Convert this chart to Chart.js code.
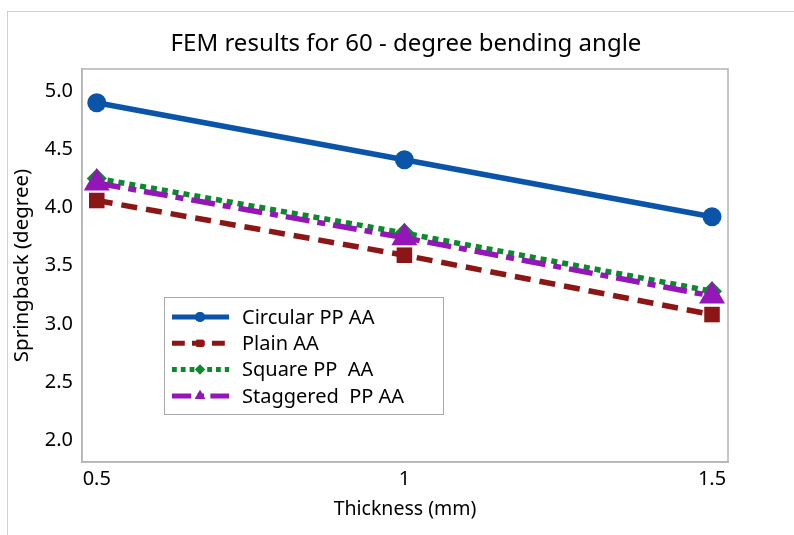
<!DOCTYPE html>
<html>
<head>
<meta charset="utf-8">
<script src="https://cdn.jsdelivr.net/npm/chart.js@4"></script>
<style>
  html, body { margin: 0; padding: 0; background: #fff; }
  #wrap { position: relative; width: 794px; height: 535px; }
  #frame { position: absolute; left: 7px; top: 11px; right: -2px; bottom: -2px; border-left: 1px solid #d0d0d0; border-top: 1px solid #d0d0d0; }
  canvas { position: absolute; left: 0; top: 0; }
</style>
</head>
<body>
<div id="wrap">
  <div id="frame"></div>
  <canvas id="femChart" width="794" height="535"></canvas>
</div>
<script>
// values
const thickness = [0.5, 1, 1.5];
const circularPP = [4.90, 4.41, 3.92];
const plainAA = [4.06, 3.59, 3.08];
const squarePP = [4.25, 3.78, 3.28];
const staggeredPP = [4.21, 3.74, 3.24];

const xTicks = [0.5, 1, 1.5];
const yTicks = [2.0, 2.5, 3.0, 3.5, 4.0, 4.5, 5.0];

const FONT = "'Noto Sans', 'Open Sans', sans-serif";

const toPoints = vals => thickness.map((t, i) => ({ x: t, y: vals[i] }));

const series = [
  { label: 'Circular PP AA', data: circularPP, color: '#0a55a8', dash: [], style: 'circle', r: 9.5, order: 0 },
  { label: 'Plain AA', data: plainAA, color: '#8c1515', dash: [16, 9], style: 'rect', r: 11, order: 3 },
  { label: 'Square PP  AA', data: squarePP, color: '#0b8a2c', dash: [6, 5], style: 'rectRot', r: 10, order: 2 },
  { label: 'Staggered  PP AA', data: staggeredPP, color: '#9416b8', dash: [24, 8, 8, 8], style: 'triangle', r: 15, order: 1 },
];

// title, plot frame and legend drawn by hand so they sit where the reference has them
const decorations = {
  id: 'decorations',
  afterDraw(chart) {
    const ctx = chart.ctx;
    const a = chart.chartArea;
    ctx.save();
    ctx.strokeStyle = '#b4b4b4';
    ctx.lineWidth = 1.5;
    ctx.strokeRect(a.left, a.top, a.right - a.left, a.bottom - a.top);

    ctx.fillStyle = '#000';
    ctx.font = '24px ' + FONT;
    ctx.textAlign = 'center';
    ctx.textBaseline = 'middle';
    ctx.fillText('FEM results for 60 - degree bending angle', 406, 44);

    // legend box
    const bx = 164, by = 297, bw = 279, bh = 117;
    ctx.fillStyle = '#fff';
    ctx.fillRect(bx, by, bw, bh);
    ctx.strokeStyle = '#a8a8a8';
    ctx.lineWidth = 1;
    ctx.strokeRect(bx + 0.5, by + 0.5, bw, bh);

    ctx.font = '20px ' + FONT;
    ctx.textAlign = 'left';
    series.forEach((s, i) => {
      const y = 317 + i * 26.3;
      ctx.strokeStyle = s.color;
      ctx.lineWidth = 5;
      ctx.setLineDash(s.dash.map(d => d * 0.8));
      ctx.beginPath();
      ctx.moveTo(172, y);
      ctx.lineTo(229, y);
      ctx.stroke();
      ctx.setLineDash([]);
      ctx.fillStyle = s.color;
      Chart.helpers.drawPoint(ctx, { pointStyle: s.style, radius: s.style === 'triangle' ? 6 : 5, borderWidth: 0 }, 200, y);
      ctx.fill();
      ctx.fillStyle = '#000';
      ctx.fillText(s.label, 242, y + 1);
    });
    ctx.restore();
  }
};

new Chart(document.getElementById('femChart').getContext('2d'), {
  type: 'line',
  data: {
    datasets: series.map(s => ({
      label: s.label,
      data: toPoints(s.data),
      borderColor: s.color,
      backgroundColor: s.color,
      borderWidth: 5.5,
      borderDash: s.dash,
      pointStyle: s.style,
      pointRadius: s.r,
      pointBorderWidth: 0,
      pointBackgroundColor: s.color,
      order: s.order,
      tension: 0,
    })),
  },
  options: {
    responsive: false,
    animation: false,
    layout: { padding: { top: 69, right: 66, left: 0, bottom: 0 } },
    plugins: { legend: { display: false }, tooltip: { enabled: false }, title: { display: false } },
    scales: {
      x: {
        type: 'linear',
        min: 0.476,
        max: 1.526,
        afterBuildTicks: sc => { sc.ticks = xTicks.map(v => ({ value: v })); },
        afterFit: sc => { sc.height = 73; },
        grid: { display: false, drawTicks: true, tickLength: 5, tickColor: '#a0a0a0' },
        border: { color: '#b4b4b4', width: 1.5 },
        ticks: { color: '#000', font: { family: FONT, size: 20 }, padding: 0, callback: v => String(v) },
        title: { display: true, text: 'Thickness (mm)', color: '#000', font: { family: FONT, size: 19.5 }, padding: { top: 0, bottom: 14 } },
      },
      y: {
        min: 1.813,
        max: 5.19,
        afterBuildTicks: sc => { sc.ticks = yTicks.map(v => ({ value: v })); },
        afterFit: sc => { sc.width = 82; },
        grid: { display: false, drawTicks: true, tickLength: 5, tickColor: '#a0a0a0' },
        border: { color: '#b4b4b4', width: 1.5 },
        ticks: { color: '#000', font: { family: FONT, size: 20 }, padding: 4, callback: v => v.toFixed(1) },
        title: { display: true, text: 'Springback (degree)', color: '#000', font: { family: FONT, size: 20.5 }, padding: { top: 10, bottom: 0 } },
      },
    },
  },
  plugins: [decorations],
});
</script>
</body>
</html>
